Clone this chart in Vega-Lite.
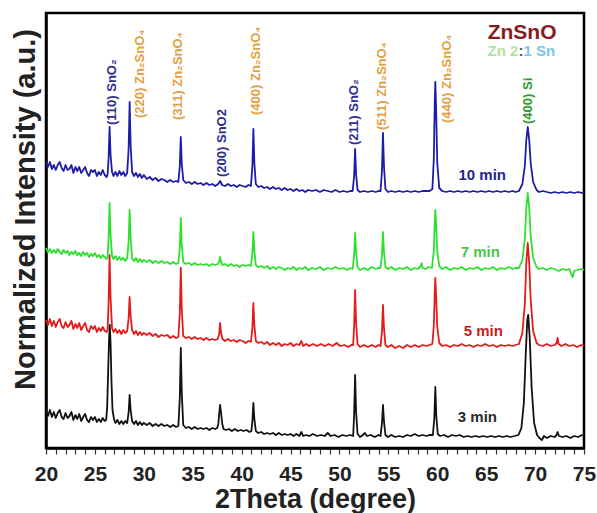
{
  "$schema": "https://vega.github.io/schema/vega-lite/v6.json",
  "width": 538,
  "height": 435,
  "autosize": {"type": "none"},
  "padding": {"left": 46, "top": 13, "right": 13, "bottom": 65},
  "view": {"stroke": "#000000", "strokeWidth": 2.5},
  "config": {"font": "Liberation Sans"},
  "encoding": {
    "x": {"field": "x", "type": "quantitative", "scale": {"domain": [20, 75], "nice": false, "zero": false},
      "axis": {"title": "2Theta (degree)", "values": [20,21,22,23,24,25,26,27,28,29,30,31,32,33,34,35,36,37,38,39,40,41,42,43,44,45,46,47,48,49,50,51,52,53,54,55,56,57,58,59,60,61,62,63,64,65,66,67,68,69,70,71,72,73,74,75],
        "labelExpr": "datum.value % 5 === 0 ? datum.label : ''", "labelFlush": false, "labelOverlap": false, "grid": false,
        "labelFontSize": 21, "labelFontWeight": "bold", "labelColor": "#222", "labelPadding": 9,
        "tickSize": 6, "tickColor": "#333", "tickWidth": 1.2, "domainColor": "#000", "domainWidth": 2.5,
        "titleFontSize": 27, "titleFontWeight": "bold", "titleColor": "#222", "titlePadding": 2,
        "encode": {"ticks": {"update": {"y2": {"signal": "datum.value % 5 === 0 ? 6 : 3"}}}}}},
    "y": {"field": "v", "type": "quantitative", "scale": {"domain": [0, 435], "nice": false, "zero": false},
      "axis": {"title": "Normalized Intensity (a.u.)", "labels": false, "ticks": false, "domain": true, "domainColor": "#000", "domainWidth": 2.5, "grid": false,
        "titleFontSize": 29, "titleFontWeight": "bold", "titleColor": "#222", "titlePadding": 6, "titleY": 196}}
  },
  "layer": [
    {
      "data": {"values": [
{"c":"10 min","x":20.0,"v":286},{"c":"10 min","x":20.2,"v":281},{"c":"10 min","x":20.4,"v":286},{"c":"10 min","x":20.6,"v":279},{"c":"10 min","x":20.8,"v":283},{"c":"10 min","x":21.0,"v":278},{"c":"10 min","x":21.2,"v":283},{"c":"10 min","x":21.4,"v":286},{"c":"10 min","x":21.6,"v":280},{"c":"10 min","x":21.8,"v":277},{"c":"10 min","x":22.0,"v":283},{"c":"10 min","x":22.2,"v":278},{"c":"10 min","x":22.4,"v":279},{"c":"10 min","x":22.6,"v":283},{"c":"10 min","x":22.8,"v":275},{"c":"10 min","x":23.0,"v":281},{"c":"10 min","x":23.2,"v":277},{"c":"10 min","x":23.4,"v":281},{"c":"10 min","x":23.6,"v":275},{"c":"10 min","x":23.8,"v":278},{"c":"10 min","x":24.0,"v":281},{"c":"10 min","x":24.2,"v":275},{"c":"10 min","x":24.4,"v":272},{"c":"10 min","x":24.6,"v":278},{"c":"10 min","x":24.8,"v":276},{"c":"10 min","x":25.0,"v":278},{"c":"10 min","x":25.2,"v":272},{"c":"10 min","x":25.4,"v":276},{"c":"10 min","x":25.6,"v":273},{"c":"10 min","x":25.8,"v":278},{"c":"10 min","x":26.0,"v":273},{"c":"10 min","x":26.2,"v":271},
{"c":"10 min","x":26.3,"v":274},{"c":"10 min","x":26.4,"v":290},{"c":"10 min","x":26.5,"v":321},{"c":"10 min","x":26.6,"v":293},{"c":"10 min","x":26.75,"v":276},
{"c":"10 min","x":26.9,"v":272},{"c":"10 min","x":27.1,"v":276},{"c":"10 min","x":27.3,"v":272},{"c":"10 min","x":27.5,"v":277},{"c":"10 min","x":27.7,"v":273},{"c":"10 min","x":27.9,"v":276},{"c":"10 min","x":28.1,"v":272},{"c":"10 min","x":28.3,"v":275},
{"c":"10 min","x":28.45,"v":300},{"c":"10 min","x":28.55,"v":346},{"c":"10 min","x":28.65,"v":303},{"c":"10 min","x":28.8,"v":276},
{"c":"10 min","x":29.0,"v":272},{"c":"10 min","x":29.2,"v":275},{"c":"10 min","x":29.4,"v":271},{"c":"10 min","x":29.6,"v":274},{"c":"10 min","x":29.8,"v":270},{"c":"10 min","x":30.0,"v":273},{"c":"10 min","x":30.3,"v":269},{"c":"10 min","x":30.6,"v":271},{"c":"10 min","x":30.9,"v":268},{"c":"10 min","x":31.2,"v":270},{"c":"10 min","x":31.5,"v":267},{"c":"10 min","x":31.8,"v":269},{"c":"10 min","x":32.1,"v":268},{"c":"10 min","x":32.4,"v":266},{"c":"10 min","x":32.7,"v":268},{"c":"10 min","x":33.0,"v":266},{"c":"10 min","x":33.3,"v":267},{"c":"10 min","x":33.53,"v":266},
{"c":"10 min","x":33.68,"v":282},{"c":"10 min","x":33.78,"v":311},{"c":"10 min","x":33.88,"v":284},{"c":"10 min","x":34.03,"v":268},
{"c":"10 min","x":34.3,"v":265},{"c":"10 min","x":34.6,"v":266},{"c":"10 min","x":34.9,"v":264},{"c":"10 min","x":35.2,"v":266},{"c":"10 min","x":35.5,"v":264},{"c":"10 min","x":35.8,"v":265},{"c":"10 min","x":36.1,"v":263},{"c":"10 min","x":36.4,"v":265},{"c":"10 min","x":36.7,"v":263},{"c":"10 min","x":37.0,"v":264},{"c":"10 min","x":37.3,"v":262},{"c":"10 min","x":37.6,"v":264},{"c":"10 min","x":37.8,"v":267},{"c":"10 min","x":38.0,"v":263},{"c":"10 min","x":38.3,"v":262},{"c":"10 min","x":38.6,"v":264},{"c":"10 min","x":38.9,"v":262},{"c":"10 min","x":39.2,"v":263},{"c":"10 min","x":39.5,"v":261},{"c":"10 min","x":39.8,"v":263},{"c":"10 min","x":40.1,"v":262},{"c":"10 min","x":40.4,"v":261},{"c":"10 min","x":40.7,"v":263},{"c":"10 min","x":40.95,"v":262},
{"c":"10 min","x":41.1,"v":282},{"c":"10 min","x":41.2,"v":319},{"c":"10 min","x":41.3,"v":285},{"c":"10 min","x":41.45,"v":264},
{"c":"10 min","x":41.7,"v":261},{"c":"10 min","x":42.0,"v":262},{"c":"10 min","x":42.3,"v":260},{"c":"10 min","x":42.6,"v":261},{"c":"10 min","x":42.9,"v":259},{"c":"10 min","x":43.2,"v":261},{"c":"10 min","x":43.5,"v":259},{"c":"10 min","x":43.8,"v":260},{"c":"10 min","x":44.1,"v":258},{"c":"10 min","x":44.4,"v":260},{"c":"10 min","x":44.7,"v":258},{"c":"10 min","x":45.0,"v":259},{"c":"10 min","x":45.3,"v":257},{"c":"10 min","x":45.6,"v":259},{"c":"10 min","x":45.9,"v":257},{"c":"10 min","x":46.2,"v":258},{"c":"10 min","x":46.5,"v":256},{"c":"10 min","x":46.8,"v":258},{"c":"10 min","x":47.2,"v":257},{"c":"10 min","x":47.6,"v":258},{"c":"10 min","x":48.0,"v":256},{"c":"10 min","x":48.4,"v":258},{"c":"10 min","x":48.8,"v":257},{"c":"10 min","x":49.2,"v":256},{"c":"10 min","x":49.6,"v":258},{"c":"10 min","x":50.0,"v":256},{"c":"10 min","x":50.4,"v":257},{"c":"10 min","x":50.8,"v":256},{"c":"10 min","x":51.1,"v":257},{"c":"10 min","x":51.35,"v":257},
{"c":"10 min","x":51.5,"v":272},{"c":"10 min","x":51.6,"v":299},{"c":"10 min","x":51.7,"v":274},{"c":"10 min","x":51.85,"v":258},
{"c":"10 min","x":52.1,"v":256},{"c":"10 min","x":52.5,"v":257},{"c":"10 min","x":52.9,"v":256},{"c":"10 min","x":53.3,"v":257},{"c":"10 min","x":53.7,"v":256},{"c":"10 min","x":54.0,"v":257},{"c":"10 min","x":54.2,"v":257},
{"c":"10 min","x":54.35,"v":278},{"c":"10 min","x":54.45,"v":315},{"c":"10 min","x":54.55,"v":282},{"c":"10 min","x":54.7,"v":259},
{"c":"10 min","x":54.95,"v":256},{"c":"10 min","x":55.3,"v":257},{"c":"10 min","x":55.7,"v":256},{"c":"10 min","x":56.1,"v":257},{"c":"10 min","x":56.5,"v":256},{"c":"10 min","x":56.9,"v":257},{"c":"10 min","x":57.3,"v":256},{"c":"10 min","x":57.7,"v":257},{"c":"10 min","x":58.1,"v":256},{"c":"10 min","x":58.5,"v":257},{"c":"10 min","x":58.9,"v":257},{"c":"10 min","x":59.2,"v":257},{"c":"10 min","x":59.5,"v":259},
{"c":"10 min","x":59.65,"v":290},{"c":"10 min","x":59.74,"v":345},{"c":"10 min","x":59.8,"v":366},{"c":"10 min","x":59.88,"v":340},{"c":"10 min","x":60.0,"v":285},{"c":"10 min","x":60.2,"v":260},
{"c":"10 min","x":60.5,"v":257},{"c":"10 min","x":60.9,"v":256},{"c":"10 min","x":61.3,"v":257},{"c":"10 min","x":61.7,"v":256},{"c":"10 min","x":62.1,"v":257},{"c":"10 min","x":62.5,"v":256},{"c":"10 min","x":62.9,"v":257},{"c":"10 min","x":63.3,"v":256},{"c":"10 min","x":63.7,"v":257},{"c":"10 min","x":64.1,"v":256},{"c":"10 min","x":64.5,"v":257},{"c":"10 min","x":64.9,"v":256},{"c":"10 min","x":65.3,"v":257},{"c":"10 min","x":65.7,"v":256},{"c":"10 min","x":66.1,"v":257},{"c":"10 min","x":66.5,"v":256},{"c":"10 min","x":66.9,"v":257},{"c":"10 min","x":67.3,"v":256},{"c":"10 min","x":67.7,"v":257},{"c":"10 min","x":68.0,"v":256},
{"c":"10 min","x":68.35,"v":257},{"c":"10 min","x":68.7,"v":264},{"c":"10 min","x":68.95,"v":282},{"c":"10 min","x":69.1,"v":308},{"c":"10 min","x":69.25,"v":321},{"c":"10 min","x":69.4,"v":308},{"c":"10 min","x":69.55,"v":285},{"c":"10 min","x":69.8,"v":266},{"c":"10 min","x":70.15,"v":258},{"c":"10 min","x":70.4,"v":256},
{"c":"10 min","x":70.8,"v":257},{"c":"10 min","x":71.2,"v":256},{"c":"10 min","x":71.6,"v":255},{"c":"10 min","x":72.0,"v":256},{"c":"10 min","x":72.4,"v":255},{"c":"10 min","x":72.8,"v":256},{"c":"10 min","x":73.2,"v":255},{"c":"10 min","x":73.6,"v":256},{"c":"10 min","x":74.0,"v":255},{"c":"10 min","x":74.4,"v":256},{"c":"10 min","x":74.8,"v":255},{"c":"10 min","x":75.0,"v":256},

{"c":"7 min","x":20.0,"v":200},{"c":"7 min","x":20.2,"v":196},{"c":"7 min","x":20.4,"v":199},{"c":"7 min","x":20.6,"v":195},{"c":"7 min","x":20.8,"v":198},{"c":"7 min","x":21.0,"v":195},{"c":"7 min","x":21.2,"v":199},{"c":"7 min","x":21.4,"v":196},{"c":"7 min","x":21.6,"v":194},{"c":"7 min","x":21.8,"v":198},{"c":"7 min","x":22.0,"v":195},{"c":"7 min","x":22.2,"v":197},{"c":"7 min","x":22.4,"v":193},{"c":"7 min","x":22.6,"v":196},{"c":"7 min","x":22.8,"v":194},{"c":"7 min","x":23.0,"v":197},{"c":"7 min","x":23.2,"v":193},{"c":"7 min","x":23.4,"v":195},{"c":"7 min","x":23.6,"v":192},{"c":"7 min","x":23.8,"v":196},{"c":"7 min","x":24.0,"v":193},{"c":"7 min","x":24.2,"v":195},{"c":"7 min","x":24.4,"v":191},{"c":"7 min","x":24.6,"v":194},{"c":"7 min","x":24.8,"v":192},{"c":"7 min","x":25.0,"v":195},{"c":"7 min","x":25.2,"v":191},{"c":"7 min","x":25.4,"v":193},{"c":"7 min","x":25.6,"v":190},{"c":"7 min","x":25.8,"v":193},{"c":"7 min","x":26.0,"v":191},{"c":"7 min","x":26.2,"v":189},
{"c":"7 min","x":26.3,"v":191},{"c":"7 min","x":26.4,"v":210},{"c":"7 min","x":26.5,"v":245},{"c":"7 min","x":26.6,"v":213},{"c":"7 min","x":26.75,"v":192},
{"c":"7 min","x":26.9,"v":189},{"c":"7 min","x":27.1,"v":192},{"c":"7 min","x":27.3,"v":188},{"c":"7 min","x":27.5,"v":191},{"c":"7 min","x":27.7,"v":188},{"c":"7 min","x":27.9,"v":190},{"c":"7 min","x":28.1,"v":187},{"c":"7 min","x":28.3,"v":190},
{"c":"7 min","x":28.45,"v":207},{"c":"7 min","x":28.55,"v":238},{"c":"7 min","x":28.65,"v":210},{"c":"7 min","x":28.8,"v":190},
{"c":"7 min","x":29.0,"v":187},{"c":"7 min","x":29.2,"v":190},{"c":"7 min","x":29.4,"v":186},{"c":"7 min","x":29.6,"v":189},{"c":"7 min","x":29.8,"v":186},{"c":"7 min","x":30.0,"v":188},{"c":"7 min","x":30.3,"v":186},{"c":"7 min","x":30.6,"v":188},{"c":"7 min","x":30.9,"v":185},{"c":"7 min","x":31.2,"v":187},{"c":"7 min","x":31.5,"v":185},{"c":"7 min","x":31.8,"v":187},{"c":"7 min","x":32.1,"v":185},{"c":"7 min","x":32.4,"v":186},{"c":"7 min","x":32.7,"v":184},{"c":"7 min","x":33.0,"v":186},{"c":"7 min","x":33.3,"v":184},{"c":"7 min","x":33.53,"v":185},
{"c":"7 min","x":33.68,"v":200},{"c":"7 min","x":33.78,"v":230},{"c":"7 min","x":33.88,"v":203},{"c":"7 min","x":34.03,"v":186},
{"c":"7 min","x":34.3,"v":184},{"c":"7 min","x":34.6,"v":185},{"c":"7 min","x":34.9,"v":183},{"c":"7 min","x":35.2,"v":185},{"c":"7 min","x":35.5,"v":183},{"c":"7 min","x":35.8,"v":184},{"c":"7 min","x":36.1,"v":183},{"c":"7 min","x":36.4,"v":184},{"c":"7 min","x":36.7,"v":182},{"c":"7 min","x":37.0,"v":184},{"c":"7 min","x":37.3,"v":183},{"c":"7 min","x":37.55,"v":184},
{"c":"7 min","x":37.7,"v":186},{"c":"7 min","x":37.8,"v":191},{"c":"7 min","x":37.9,"v":186},{"c":"7 min","x":38.05,"v":183},
{"c":"7 min","x":38.3,"v":184},{"c":"7 min","x":38.6,"v":182},{"c":"7 min","x":38.9,"v":184},{"c":"7 min","x":39.2,"v":182},{"c":"7 min","x":39.5,"v":183},{"c":"7 min","x":39.8,"v":181},{"c":"7 min","x":40.1,"v":183},{"c":"7 min","x":40.4,"v":182},{"c":"7 min","x":40.7,"v":183},{"c":"7 min","x":40.95,"v":182},
{"c":"7 min","x":41.1,"v":195},{"c":"7 min","x":41.2,"v":216},{"c":"7 min","x":41.3,"v":197},{"c":"7 min","x":41.45,"v":183},
{"c":"7 min","x":41.7,"v":181},{"c":"7 min","x":42.0,"v":182},{"c":"7 min","x":42.3,"v":180},{"c":"7 min","x":42.6,"v":182},{"c":"7 min","x":42.9,"v":179},{"c":"7 min","x":43.2,"v":181},{"c":"7 min","x":43.5,"v":179},{"c":"7 min","x":43.8,"v":181},{"c":"7 min","x":44.1,"v":180},{"c":"7 min","x":44.4,"v":178},{"c":"7 min","x":44.7,"v":180},{"c":"7 min","x":45.0,"v":179},{"c":"7 min","x":45.3,"v":181},{"c":"7 min","x":45.6,"v":178},{"c":"7 min","x":45.9,"v":180},{"c":"7 min","x":46.2,"v":179},{"c":"7 min","x":46.5,"v":181},{"c":"7 min","x":46.8,"v":178},{"c":"7 min","x":47.2,"v":180},{"c":"7 min","x":47.6,"v":179},{"c":"7 min","x":48.0,"v":181},{"c":"7 min","x":48.4,"v":178},{"c":"7 min","x":48.8,"v":180},{"c":"7 min","x":49.2,"v":179},{"c":"7 min","x":49.6,"v":181},{"c":"7 min","x":50.0,"v":179},{"c":"7 min","x":50.4,"v":180},{"c":"7 min","x":50.8,"v":178},{"c":"7 min","x":51.1,"v":180},{"c":"7 min","x":51.35,"v":179},
{"c":"7 min","x":51.5,"v":193},{"c":"7 min","x":51.6,"v":215},{"c":"7 min","x":51.7,"v":195},{"c":"7 min","x":51.85,"v":181},
{"c":"7 min","x":52.1,"v":178},{"c":"7 min","x":52.5,"v":180},{"c":"7 min","x":52.9,"v":178},{"c":"7 min","x":53.3,"v":181},{"c":"7 min","x":53.7,"v":179},{"c":"7 min","x":54.0,"v":180},{"c":"7 min","x":54.2,"v":180},
{"c":"7 min","x":54.35,"v":193},{"c":"7 min","x":54.45,"v":216},{"c":"7 min","x":54.55,"v":196},{"c":"7 min","x":54.7,"v":181},
{"c":"7 min","x":54.95,"v":179},{"c":"7 min","x":55.3,"v":181},{"c":"7 min","x":55.7,"v":178},{"c":"7 min","x":56.1,"v":180},{"c":"7 min","x":56.5,"v":179},{"c":"7 min","x":56.9,"v":181},{"c":"7 min","x":57.3,"v":178},{"c":"7 min","x":57.7,"v":180},{"c":"7 min","x":58.0,"v":179},{"c":"7 min","x":58.3,"v":182},{"c":"7 min","x":58.4,"v":185},{"c":"7 min","x":58.5,"v":180},{"c":"7 min","x":58.8,"v":179},{"c":"7 min","x":59.1,"v":181},{"c":"7 min","x":59.45,"v":180},
{"c":"7 min","x":59.65,"v":197},{"c":"7 min","x":59.74,"v":226},{"c":"7 min","x":59.8,"v":238},{"c":"7 min","x":59.88,"v":224},{"c":"7 min","x":60.0,"v":196},{"c":"7 min","x":60.2,"v":182},
{"c":"7 min","x":60.5,"v":179},{"c":"7 min","x":60.9,"v":181},{"c":"7 min","x":61.3,"v":178},{"c":"7 min","x":61.7,"v":180},{"c":"7 min","x":62.1,"v":179},{"c":"7 min","x":62.5,"v":181},{"c":"7 min","x":62.9,"v":178},{"c":"7 min","x":63.3,"v":180},{"c":"7 min","x":63.7,"v":179},{"c":"7 min","x":64.1,"v":181},{"c":"7 min","x":64.5,"v":178},{"c":"7 min","x":64.9,"v":180},{"c":"7 min","x":65.3,"v":179},{"c":"7 min","x":65.7,"v":181},{"c":"7 min","x":66.1,"v":178},{"c":"7 min","x":66.5,"v":180},{"c":"7 min","x":66.9,"v":179},{"c":"7 min","x":67.3,"v":181},{"c":"7 min","x":67.7,"v":179},{"c":"7 min","x":68.0,"v":180},
{"c":"7 min","x":68.35,"v":180},{"c":"7 min","x":68.7,"v":188},{"c":"7 min","x":68.95,"v":209},{"c":"7 min","x":69.1,"v":240},{"c":"7 min","x":69.25,"v":255},{"c":"7 min","x":69.4,"v":240},{"c":"7 min","x":69.55,"v":212},{"c":"7 min","x":69.8,"v":190},{"c":"7 min","x":70.15,"v":181},{"c":"7 min","x":70.4,"v":179},
{"c":"7 min","x":70.8,"v":180},{"c":"7 min","x":71.2,"v":178},{"c":"7 min","x":71.6,"v":180},{"c":"7 min","x":72.0,"v":179},{"c":"7 min","x":72.4,"v":177},{"c":"7 min","x":72.8,"v":179},{"c":"7 min","x":73.2,"v":178},{"c":"7 min","x":73.5,"v":179},{"c":"7 min","x":73.7,"v":174},{"c":"7 min","x":73.85,"v":171},{"c":"7 min","x":74.0,"v":177},{"c":"7 min","x":74.3,"v":178},{"c":"7 min","x":74.7,"v":179},{"c":"7 min","x":75.0,"v":178},

{"c":"5 min","x":20.0,"v":128},{"c":"5 min","x":20.2,"v":123},{"c":"5 min","x":20.4,"v":129},{"c":"5 min","x":20.6,"v":122},{"c":"5 min","x":20.8,"v":127},{"c":"5 min","x":21.0,"v":121},{"c":"5 min","x":21.2,"v":126},{"c":"5 min","x":21.4,"v":129},{"c":"5 min","x":21.6,"v":122},{"c":"5 min","x":21.8,"v":120},{"c":"5 min","x":22.0,"v":126},{"c":"5 min","x":22.2,"v":121},{"c":"5 min","x":22.4,"v":123},{"c":"5 min","x":22.6,"v":127},{"c":"5 min","x":22.8,"v":119},{"c":"5 min","x":23.0,"v":124},{"c":"5 min","x":23.2,"v":120},{"c":"5 min","x":23.4,"v":125},{"c":"5 min","x":23.6,"v":118},{"c":"5 min","x":23.8,"v":122},{"c":"5 min","x":24.0,"v":125},{"c":"5 min","x":24.2,"v":118},{"c":"5 min","x":24.4,"v":116},{"c":"5 min","x":24.6,"v":122},{"c":"5 min","x":24.8,"v":119},{"c":"5 min","x":25.0,"v":122},{"c":"5 min","x":25.2,"v":116},{"c":"5 min","x":25.4,"v":120},{"c":"5 min","x":25.6,"v":117},{"c":"5 min","x":25.8,"v":121},{"c":"5 min","x":26.0,"v":117},{"c":"5 min","x":26.2,"v":116},
{"c":"5 min","x":26.3,"v":119},{"c":"5 min","x":26.4,"v":146},{"c":"5 min","x":26.5,"v":193},{"c":"5 min","x":26.6,"v":150},{"c":"5 min","x":26.75,"v":120},
{"c":"5 min","x":26.9,"v":116},{"c":"5 min","x":27.1,"v":119},{"c":"5 min","x":27.3,"v":115},{"c":"5 min","x":27.5,"v":118},{"c":"5 min","x":27.7,"v":114},{"c":"5 min","x":27.9,"v":118},{"c":"5 min","x":28.1,"v":115},{"c":"5 min","x":28.3,"v":117},
{"c":"5 min","x":28.45,"v":130},{"c":"5 min","x":28.55,"v":151},{"c":"5 min","x":28.65,"v":132},{"c":"5 min","x":28.8,"v":118},
{"c":"5 min","x":29.0,"v":114},{"c":"5 min","x":29.2,"v":117},{"c":"5 min","x":29.4,"v":113},{"c":"5 min","x":29.6,"v":116},{"c":"5 min","x":29.8,"v":113},{"c":"5 min","x":30.0,"v":115},{"c":"5 min","x":30.3,"v":113},{"c":"5 min","x":30.6,"v":115},{"c":"5 min","x":30.9,"v":112},{"c":"5 min","x":31.2,"v":114},{"c":"5 min","x":31.5,"v":111},{"c":"5 min","x":31.8,"v":113},{"c":"5 min","x":32.1,"v":112},{"c":"5 min","x":32.4,"v":113},{"c":"5 min","x":32.7,"v":110},{"c":"5 min","x":33.0,"v":112},{"c":"5 min","x":33.3,"v":110},{"c":"5 min","x":33.53,"v":111},
{"c":"5 min","x":33.68,"v":135},{"c":"5 min","x":33.78,"v":180},{"c":"5 min","x":33.88,"v":139},{"c":"5 min","x":34.03,"v":112},
{"c":"5 min","x":34.3,"v":110},{"c":"5 min","x":34.6,"v":111},{"c":"5 min","x":34.9,"v":109},{"c":"5 min","x":35.2,"v":111},{"c":"5 min","x":35.5,"v":109},{"c":"5 min","x":35.8,"v":110},{"c":"5 min","x":36.1,"v":108},{"c":"5 min","x":36.4,"v":110},{"c":"5 min","x":36.7,"v":108},{"c":"5 min","x":37.0,"v":109},{"c":"5 min","x":37.3,"v":108},{"c":"5 min","x":37.55,"v":109},
{"c":"5 min","x":37.7,"v":114},{"c":"5 min","x":37.8,"v":125},{"c":"5 min","x":37.9,"v":115},{"c":"5 min","x":38.05,"v":109},
{"c":"5 min","x":38.3,"v":107},{"c":"5 min","x":38.6,"v":109},{"c":"5 min","x":38.9,"v":107},{"c":"5 min","x":39.2,"v":108},{"c":"5 min","x":39.5,"v":106},{"c":"5 min","x":39.8,"v":108},{"c":"5 min","x":40.1,"v":107},{"c":"5 min","x":40.4,"v":105},{"c":"5 min","x":40.7,"v":107},{"c":"5 min","x":40.95,"v":106},
{"c":"5 min","x":41.1,"v":120},{"c":"5 min","x":41.2,"v":145},{"c":"5 min","x":41.3,"v":123},{"c":"5 min","x":41.45,"v":107},
{"c":"5 min","x":41.7,"v":105},{"c":"5 min","x":42.0,"v":106},{"c":"5 min","x":42.3,"v":104},{"c":"5 min","x":42.6,"v":106},{"c":"5 min","x":42.9,"v":103},{"c":"5 min","x":43.2,"v":105},{"c":"5 min","x":43.5,"v":103},{"c":"5 min","x":43.8,"v":105},{"c":"5 min","x":44.1,"v":102},{"c":"5 min","x":44.4,"v":104},{"c":"5 min","x":44.7,"v":103},{"c":"5 min","x":45.0,"v":105},{"c":"5 min","x":45.3,"v":102},{"c":"5 min","x":45.6,"v":104},{"c":"5 min","x":45.9,"v":103},{"c":"5 min","x":46.1,"v":107},{"c":"5 min","x":46.3,"v":102},{"c":"5 min","x":46.6,"v":104},{"c":"5 min","x":46.9,"v":102},{"c":"5 min","x":47.3,"v":104},{"c":"5 min","x":47.7,"v":102},{"c":"5 min","x":48.1,"v":104},{"c":"5 min","x":48.5,"v":102},{"c":"5 min","x":48.9,"v":104},{"c":"5 min","x":49.3,"v":102},{"c":"5 min","x":49.7,"v":105},{"c":"5 min","x":50.1,"v":102},{"c":"5 min","x":50.5,"v":103},{"c":"5 min","x":50.9,"v":101},{"c":"5 min","x":51.2,"v":103},{"c":"5 min","x":51.4,"v":103},
{"c":"5 min","x":51.5,"v":122},{"c":"5 min","x":51.6,"v":158},{"c":"5 min","x":51.7,"v":125},{"c":"5 min","x":51.85,"v":104},
{"c":"5 min","x":52.1,"v":101},{"c":"5 min","x":52.5,"v":103},{"c":"5 min","x":52.9,"v":101},{"c":"5 min","x":53.3,"v":103},{"c":"5 min","x":53.7,"v":101},{"c":"5 min","x":54.0,"v":103},{"c":"5 min","x":54.2,"v":102},
{"c":"5 min","x":54.35,"v":117},{"c":"5 min","x":54.45,"v":143},{"c":"5 min","x":54.55,"v":120},{"c":"5 min","x":54.7,"v":103},
{"c":"5 min","x":54.95,"v":101},{"c":"5 min","x":55.3,"v":103},{"c":"5 min","x":55.7,"v":100},{"c":"5 min","x":56.1,"v":102},{"c":"5 min","x":56.5,"v":100},{"c":"5 min","x":56.9,"v":103},{"c":"5 min","x":57.3,"v":101},{"c":"5 min","x":57.7,"v":103},{"c":"5 min","x":58.1,"v":101},{"c":"5 min","x":58.5,"v":103},{"c":"5 min","x":58.9,"v":102},{"c":"5 min","x":59.2,"v":103},{"c":"5 min","x":59.5,"v":104},
{"c":"5 min","x":59.65,"v":123},{"c":"5 min","x":59.74,"v":155},{"c":"5 min","x":59.8,"v":170},{"c":"5 min","x":59.88,"v":152},{"c":"5 min","x":60.0,"v":121},{"c":"5 min","x":60.2,"v":105},
{"c":"5 min","x":60.5,"v":102},{"c":"5 min","x":60.9,"v":103},{"c":"5 min","x":61.3,"v":101},{"c":"5 min","x":61.7,"v":103},{"c":"5 min","x":62.1,"v":102},{"c":"5 min","x":62.5,"v":104},{"c":"5 min","x":62.9,"v":102},{"c":"5 min","x":63.3,"v":103},{"c":"5 min","x":63.7,"v":101},{"c":"5 min","x":64.1,"v":103},{"c":"5 min","x":64.5,"v":102},{"c":"5 min","x":64.9,"v":104},{"c":"5 min","x":65.3,"v":102},{"c":"5 min","x":65.7,"v":103},{"c":"5 min","x":66.1,"v":101},{"c":"5 min","x":66.5,"v":103},{"c":"5 min","x":66.9,"v":102},{"c":"5 min","x":67.3,"v":103},{"c":"5 min","x":67.7,"v":102},{"c":"5 min","x":68.0,"v":103},
{"c":"5 min","x":68.35,"v":104},{"c":"5 min","x":68.7,"v":115},{"c":"5 min","x":68.95,"v":144},{"c":"5 min","x":69.1,"v":185},{"c":"5 min","x":69.25,"v":205},{"c":"5 min","x":69.4,"v":185},{"c":"5 min","x":69.55,"v":148},{"c":"5 min","x":69.8,"v":117},{"c":"5 min","x":70.15,"v":105},{"c":"5 min","x":70.4,"v":103},
{"c":"5 min","x":70.8,"v":102},{"c":"5 min","x":71.2,"v":104},{"c":"5 min","x":71.6,"v":102},{"c":"5 min","x":72.0,"v":103},{"c":"5 min","x":72.2,"v":105},{"c":"5 min","x":72.3,"v":110},{"c":"5 min","x":72.4,"v":104},{"c":"5 min","x":72.7,"v":102},{"c":"5 min","x":73.1,"v":104},{"c":"5 min","x":73.5,"v":102},{"c":"5 min","x":73.9,"v":103},{"c":"5 min","x":74.3,"v":101},{"c":"5 min","x":74.7,"v":103},{"c":"5 min","x":75.0,"v":102},

{"c":"3 min","x":20.0,"v":37},{"c":"3 min","x":20.2,"v":32},{"c":"3 min","x":20.4,"v":38},{"c":"3 min","x":20.6,"v":31},{"c":"3 min","x":20.8,"v":36},{"c":"3 min","x":21.0,"v":30},{"c":"3 min","x":21.2,"v":35},{"c":"3 min","x":21.4,"v":38},{"c":"3 min","x":21.6,"v":31},{"c":"3 min","x":21.8,"v":29},{"c":"3 min","x":22.0,"v":35},{"c":"3 min","x":22.2,"v":30},{"c":"3 min","x":22.4,"v":32},{"c":"3 min","x":22.6,"v":36},{"c":"3 min","x":22.8,"v":28},{"c":"3 min","x":23.0,"v":33},{"c":"3 min","x":23.2,"v":29},{"c":"3 min","x":23.4,"v":34},{"c":"3 min","x":23.6,"v":27},{"c":"3 min","x":23.8,"v":31},{"c":"3 min","x":24.0,"v":34},{"c":"3 min","x":24.2,"v":28},{"c":"3 min","x":24.4,"v":26},{"c":"3 min","x":24.6,"v":31},{"c":"3 min","x":24.8,"v":28},{"c":"3 min","x":25.0,"v":31},{"c":"3 min","x":25.2,"v":26},{"c":"3 min","x":25.4,"v":29},{"c":"3 min","x":25.6,"v":26},{"c":"3 min","x":25.8,"v":30},{"c":"3 min","x":26.0,"v":27},{"c":"3 min","x":26.15,"v":28},
{"c":"3 min","x":26.25,"v":40},{"c":"3 min","x":26.35,"v":75},{"c":"3 min","x":26.45,"v":110},{"c":"3 min","x":26.52,"v":123},{"c":"3 min","x":26.6,"v":105},{"c":"3 min","x":26.7,"v":65},{"c":"3 min","x":26.8,"v":38},{"c":"3 min","x":26.95,"v":29},
{"c":"3 min","x":27.1,"v":25},{"c":"3 min","x":27.3,"v":28},{"c":"3 min","x":27.5,"v":24},{"c":"3 min","x":27.7,"v":27},{"c":"3 min","x":27.9,"v":24},{"c":"3 min","x":28.1,"v":27},{"c":"3 min","x":28.3,"v":25},
{"c":"3 min","x":28.45,"v":36},{"c":"3 min","x":28.55,"v":53},{"c":"3 min","x":28.65,"v":38},{"c":"3 min","x":28.8,"v":27},
{"c":"3 min","x":29.0,"v":24},{"c":"3 min","x":29.2,"v":27},{"c":"3 min","x":29.4,"v":23},{"c":"3 min","x":29.6,"v":26},{"c":"3 min","x":29.8,"v":23},{"c":"3 min","x":30.0,"v":25},{"c":"3 min","x":30.3,"v":23},{"c":"3 min","x":30.6,"v":25},{"c":"3 min","x":30.9,"v":22},{"c":"3 min","x":31.2,"v":24},{"c":"3 min","x":31.5,"v":22},{"c":"3 min","x":31.8,"v":24},{"c":"3 min","x":32.1,"v":22},{"c":"3 min","x":32.4,"v":23},{"c":"3 min","x":32.7,"v":21},{"c":"3 min","x":33.0,"v":23},{"c":"3 min","x":33.3,"v":21},{"c":"3 min","x":33.53,"v":22},
{"c":"3 min","x":33.68,"v":50},{"c":"3 min","x":33.78,"v":100},{"c":"3 min","x":33.88,"v":55},{"c":"3 min","x":34.03,"v":23},
{"c":"3 min","x":34.3,"v":20},{"c":"3 min","x":34.6,"v":21},{"c":"3 min","x":34.9,"v":19},{"c":"3 min","x":35.2,"v":21},{"c":"3 min","x":35.5,"v":19},{"c":"3 min","x":35.8,"v":20},{"c":"3 min","x":36.1,"v":19},{"c":"3 min","x":36.4,"v":20},{"c":"3 min","x":36.7,"v":18},{"c":"3 min","x":37.0,"v":20},{"c":"3 min","x":37.3,"v":19},{"c":"3 min","x":37.5,"v":20},
{"c":"3 min","x":37.62,"v":24},{"c":"3 min","x":37.72,"v":36},{"c":"3 min","x":37.8,"v":43},{"c":"3 min","x":37.9,"v":35},{"c":"3 min","x":38.02,"v":24},{"c":"3 min","x":38.15,"v":19},
{"c":"3 min","x":38.4,"v":18},{"c":"3 min","x":38.7,"v":19},{"c":"3 min","x":39.0,"v":17},{"c":"3 min","x":39.3,"v":19},{"c":"3 min","x":39.6,"v":17},{"c":"3 min","x":39.9,"v":18},{"c":"3 min","x":40.2,"v":17},{"c":"3 min","x":40.5,"v":18},{"c":"3 min","x":40.8,"v":16},{"c":"3 min","x":41.0,"v":17},
{"c":"3 min","x":41.1,"v":27},{"c":"3 min","x":41.2,"v":45},{"c":"3 min","x":41.3,"v":29},{"c":"3 min","x":41.45,"v":17},
{"c":"3 min","x":41.7,"v":15},{"c":"3 min","x":42.0,"v":16},{"c":"3 min","x":42.3,"v":14},{"c":"3 min","x":42.6,"v":15},{"c":"3 min","x":42.9,"v":14},{"c":"3 min","x":43.2,"v":15},{"c":"3 min","x":43.5,"v":13},{"c":"3 min","x":43.8,"v":15},{"c":"3 min","x":44.1,"v":13},{"c":"3 min","x":44.4,"v":14},{"c":"3 min","x":44.7,"v":13},{"c":"3 min","x":45.0,"v":14},{"c":"3 min","x":45.3,"v":12},{"c":"3 min","x":45.6,"v":14},{"c":"3 min","x":45.9,"v":12},{"c":"3 min","x":46.1,"v":16},{"c":"3 min","x":46.3,"v":12},{"c":"3 min","x":46.6,"v":13},{"c":"3 min","x":46.9,"v":12},{"c":"3 min","x":47.3,"v":14},{"c":"3 min","x":47.7,"v":12},{"c":"3 min","x":48.1,"v":13},{"c":"3 min","x":48.5,"v":12},{"c":"3 min","x":48.8,"v":15},{"c":"3 min","x":49.1,"v":12},{"c":"3 min","x":49.5,"v":13},{"c":"3 min","x":49.9,"v":11},{"c":"3 min","x":50.3,"v":13},{"c":"3 min","x":50.7,"v":12},{"c":"3 min","x":51.1,"v":13},{"c":"3 min","x":51.4,"v":12},
{"c":"3 min","x":51.5,"v":33},{"c":"3 min","x":51.6,"v":73},{"c":"3 min","x":51.7,"v":36},{"c":"3 min","x":51.85,"v":14},
{"c":"3 min","x":52.1,"v":11},{"c":"3 min","x":52.4,"v":13},{"c":"3 min","x":52.6,"v":15},{"c":"3 min","x":52.8,"v":12},{"c":"3 min","x":53.2,"v":13},{"c":"3 min","x":53.6,"v":11},{"c":"3 min","x":54.0,"v":13},{"c":"3 min","x":54.2,"v":12},
{"c":"3 min","x":54.35,"v":25},{"c":"3 min","x":54.45,"v":43},{"c":"3 min","x":54.55,"v":27},{"c":"3 min","x":54.7,"v":13},
{"c":"3 min","x":54.95,"v":11},{"c":"3 min","x":55.3,"v":13},{"c":"3 min","x":55.7,"v":11},{"c":"3 min","x":56.1,"v":12},{"c":"3 min","x":56.5,"v":11},{"c":"3 min","x":56.9,"v":13},{"c":"3 min","x":57.3,"v":12},{"c":"3 min","x":57.7,"v":14},{"c":"3 min","x":58.1,"v":12},{"c":"3 min","x":58.5,"v":13},{"c":"3 min","x":58.9,"v":12},{"c":"3 min","x":59.2,"v":13},{"c":"3 min","x":59.55,"v":13},
{"c":"3 min","x":59.7,"v":30},{"c":"3 min","x":59.8,"v":61},{"c":"3 min","x":59.9,"v":32},{"c":"3 min","x":60.05,"v":14},
{"c":"3 min","x":60.3,"v":12},{"c":"3 min","x":60.7,"v":13},{"c":"3 min","x":61.1,"v":11},{"c":"3 min","x":61.5,"v":13},{"c":"3 min","x":61.9,"v":12},{"c":"3 min","x":62.3,"v":13},{"c":"3 min","x":62.7,"v":11},{"c":"3 min","x":63.1,"v":12},{"c":"3 min","x":63.5,"v":11},{"c":"3 min","x":63.9,"v":12},{"c":"3 min","x":64.3,"v":11},{"c":"3 min","x":64.7,"v":12},{"c":"3 min","x":65.1,"v":11},{"c":"3 min","x":65.5,"v":12},{"c":"3 min","x":65.9,"v":11},{"c":"3 min","x":66.3,"v":12},{"c":"3 min","x":66.7,"v":11},{"c":"3 min","x":67.1,"v":12},{"c":"3 min","x":67.5,"v":11},{"c":"3 min","x":67.9,"v":12},
{"c":"3 min","x":68.3,"v":13},{"c":"3 min","x":68.6,"v":20},{"c":"3 min","x":68.85,"v":45},{"c":"3 min","x":69.05,"v":95},{"c":"3 min","x":69.2,"v":128},{"c":"3 min","x":69.3,"v":133},{"c":"3 min","x":69.45,"v":110},{"c":"3 min","x":69.65,"v":60},{"c":"3 min","x":69.9,"v":25},{"c":"3 min","x":70.2,"v":13},{"c":"3 min","x":70.45,"v":10},
{"c":"3 min","x":70.7,"v":8},{"c":"3 min","x":70.9,"v":12},{"c":"3 min","x":71.2,"v":10},{"c":"3 min","x":71.6,"v":12},{"c":"3 min","x":72.0,"v":11},{"c":"3 min","x":72.2,"v":13},{"c":"3 min","x":72.3,"v":16},{"c":"3 min","x":72.45,"v":12},{"c":"3 min","x":72.8,"v":11},{"c":"3 min","x":73.2,"v":12},{"c":"3 min","x":73.6,"v":10},{"c":"3 min","x":74.0,"v":12},{"c":"3 min","x":74.4,"v":11},{"c":"3 min","x":74.8,"v":13},{"c":"3 min","x":75.0,"v":12}
      ]},
      "mark": {"type": "line", "strokeWidth": 1.8, "strokeJoin": "round"},
      "encoding": {
        "stroke": {"field": "c", "type": "nominal", "legend": null,
          "scale": {"domain": ["10 min", "7 min", "5 min", "3 min"], "range": ["#1c1ca8", "#2ee02e", "#e31b1b", "#111111"]}}
      }
    },
    {
      "data": {"values": [
        {"x": 26.75, "v": 323, "t": "(110) SnO₂", "k": "SnO2"},
        {"x": 29.6, "v": 330, "t": "(220) Zn₂SnO₄", "k": "Zn2SnO4"},
        {"x": 33.5, "v": 328, "t": "(311) Zn₂SnO₄", "k": "Zn2SnO4"},
        {"x": 37.97, "v": 271, "t": "(200) SnO2", "k": "SnO2"},
        {"x": 41.47, "v": 333, "t": "(400) Zn₂SnO₄", "k": "Zn2SnO4"},
        {"x": 51.5, "v": 303, "t": "(211) SnO₂", "k": "SnO2"},
        {"x": 54.33, "v": 318, "t": "(511) Zn₂SnO₄", "k": "Zn2SnO4"},
        {"x": 60.97, "v": 325, "t": "(440) Zn₂SnO₄", "k": "Zn2SnO4"},
        {"x": 69.25, "v": 324, "t": "(400) Si", "k": "Si"}
      ]},
      "mark": {"type": "text", "angle": 270, "align": "left", "baseline": "middle", "fontSize": 13, "fontWeight": "bold"},
      "encoding": {
        "text": {"field": "t"},
        "fill": {"field": "k", "type": "nominal", "legend": null,
          "scale": {"domain": ["SnO2", "Zn2SnO4", "Si"], "range": ["#2e2e8e", "#e3a040", "#2f9a2f"]}}
      }
    },
    {
      "data": {"values": [
        {"x": 64.6, "v": 273, "t": "10 min"},
        {"x": 64.4, "v": 196, "t": "7 min"},
        {"x": 64.7, "v": 117, "t": "5 min"},
        {"x": 64.1, "v": 31, "t": "3 min"}
      ]},
      "mark": {"type": "text", "align": "center", "baseline": "middle", "fontSize": 15, "fontWeight": "bold"},
      "encoding": {
        "text": {"field": "t"},
        "color": {"field": "t", "type": "nominal", "legend": null,
          "scale": {"domain": ["10 min", "7 min", "5 min", "3 min"], "range": ["#24248f", "#45c845", "#c42222", "#2a2a2a"]}}
      }
    },
    {
      "data": {"values": [{"x": 68.67, "v": 415.5, "t": "ZnSnO"}]},
      "mark": {"type": "text", "align": "center", "baseline": "middle", "fontSize": 21, "fontWeight": "bold", "fill": "#861c1c"},
      "encoding": {"text": {"field": "t"}}
    },
    {
      "data": {"values": [{"x": 68.55, "v": 397, "t": "Zn 2"}]},
      "mark": {"type": "text", "align": "right", "baseline": "middle", "dx": -2.5, "fontSize": 15, "fontWeight": "bold", "fill": "#b4e2a0"},
      "encoding": {"text": {"field": "t"}}
    },
    {
      "data": {"values": [{"x": 68.55, "v": 397, "t": ":"}]},
      "mark": {"type": "text", "align": "center", "baseline": "middle", "fontSize": 15, "fontWeight": "bold", "fill": "#555555"},
      "encoding": {"text": {"field": "t"}}
    },
    {
      "data": {"values": [{"x": 68.55, "v": 397, "t": "1 Sn"}]},
      "mark": {"type": "text", "align": "left", "baseline": "middle", "dx": 2.5, "fontSize": 15, "fontWeight": "bold", "fill": "#7cc6e6"},
      "encoding": {"text": {"field": "t"}}
    },
    {
      "data": {"values": [{}]},
      "mark": {"type": "rect", "fill": "transparent", "stroke": "#000000", "strokeWidth": 2.5},
      "encoding": {"x": {"datum": 20}, "x2": {"datum": 75}, "y": {"datum": 0}, "y2": {"datum": 435}}
    }
  ]
}
